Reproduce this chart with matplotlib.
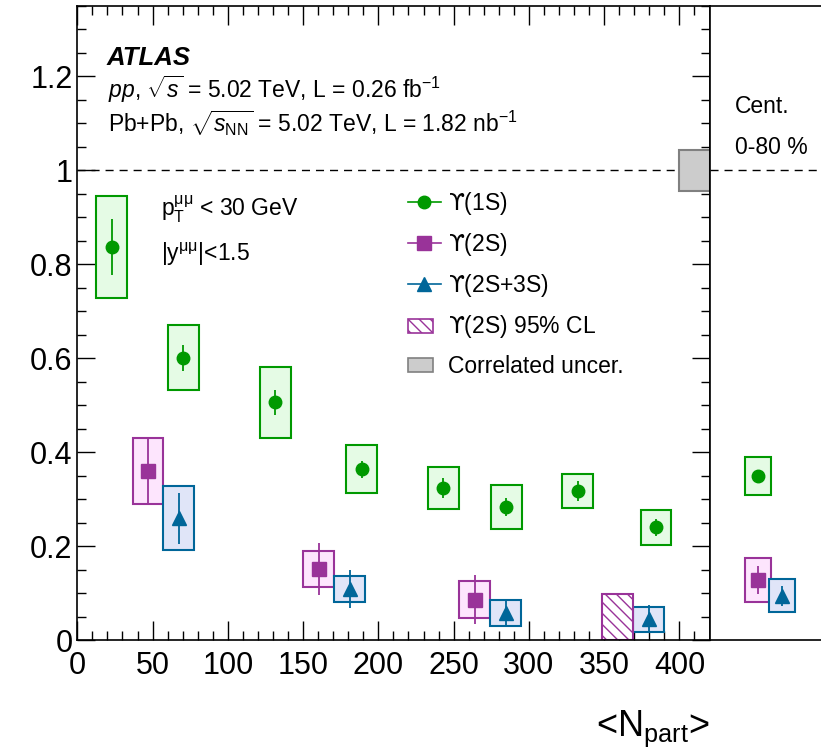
import numpy as np
import matplotlib
matplotlib.use('Agg')
import matplotlib.pyplot as plt
import matplotlib.patches as mpatches
from matplotlib.lines import Line2D
from matplotlib.legend_handler import HandlerPatch
from matplotlib.ticker import MultipleLocator, FuncFormatter

plt.rcParams['font.family'] = ['Liberation Sans', 'DejaVu Sans']
plt.rcParams['mathtext.fontset'] = 'custom'
plt.rcParams['mathtext.rm'] = 'Liberation Sans'
plt.rcParams['mathtext.it'] = 'Liberation Sans:italic'
plt.rcParams['mathtext.bf'] = 'Liberation Sans:bold'
plt.rcParams['mathtext.sf'] = 'DejaVu Sans'   # curly-armed upsilon

# Upsilon(1S) R_AA vs <Npart>
npart_1s = [23.0, 70.5, 131.5, 189.0, 243.0, 285.0, 332.5, 384.5]
raa_1s = [0.837, 0.601, 0.506, 0.364, 0.324, 0.284, 0.317, 0.240]
stat_1s = [0.060, 0.028, 0.026, 0.018, 0.022, 0.019, 0.022, 0.018]
syst_1s = [0.108, 0.069, 0.075, 0.052, 0.045, 0.047, 0.036, 0.037]

# Upsilon(2S)
npart_2s = [47.0, 160.5, 264.0]
raa_2s = [0.360, 0.151, 0.086]
stat_2s = [0.070, 0.055, 0.052]
syst_2s = [0.070, 0.039, 0.040]

# Upsilon(2S) 95% CL upper limit, most central bin
npart_2s_lim = [359.0]
lim_2s = [0.099]

# Upsilon(2S+3S), drawn shifted in Npart
npart_23s = [67.5, 181.0, 284.5, 379.5]
raa_23s = [0.259, 0.108, 0.057, 0.044]
stat_23s = [0.055, 0.040, 0.030, 0.030]
syst_23s = [0.068, 0.028, 0.028, 0.027]

# centrality integrated 0-80 %
raa_cent = [0.349, 0.127, 0.094]
stat_cent = [0.010, 0.030, 0.022]
syst_cent = [0.040, 0.047, 0.035]
xpos_cent = [32.2, 32.2, 48.2]

corr_unc = 0.0435

C1, F1 = '#009900', '#e5fbe5'
C2, F2 = '#993399', '#fde5fd'
C3, F3 = '#006699', '#e0e5f8'
BOX_W = 20.5
BOX_W_CENT = 17.0
UPS = r'$\mathsf{ϒ}$'

fig = plt.figure(figsize=(8.21, 7.5), dpi=100)
ax = fig.add_axes([77.3 / 821, 110 / 750, 632.2 / 821, 634 / 750])
axr = fig.add_axes([709.5 / 821, 110 / 750, 120.4 / 821, 634 / 750])

def draw_series(a, x, y, stat, syst, width, col, fill, marker, ms):
    y = np.asarray(y)
    syst = np.asarray(syst)
    a.bar(x, 2 * syst, bottom=y - syst, width=width, color=fill,
          edgecolor=col, linewidth=1.5, zorder=2)
    a.errorbar(x, y, yerr=stat, fmt=marker, color=col, ms=ms,
               elinewidth=1.3, capsize=0, zorder=4)

draw_series(ax, npart_1s, raa_1s, stat_1s, syst_1s, BOX_W, C1, F1, 'o', 9)
draw_series(ax, npart_2s, raa_2s, stat_2s, syst_2s, BOX_W, C2, F2, 's', 10)
draw_series(ax, npart_23s, raa_23s, stat_23s, syst_23s, BOX_W, C3, F3, '^', 9.5)
ax.bar(npart_2s_lim, lim_2s, bottom=0, width=BOX_W, facecolor='white',
       edgecolor=C2, hatch='\\\\\\', linewidth=1.5, zorder=2)
ax.bar([410], [2 * corr_unc], bottom=1 - corr_unc, width=20, color='0.8',
       edgecolor='0.5', linewidth=1.5, zorder=2)

cent_styles = [(C1, F1, 'o', 9), (C2, F2, 's', 10), (C3, F3, '^', 9.5)]
for i, (col, fill, m, ms) in enumerate(cent_styles):
    draw_series(axr, [xpos_cent[i]], [raa_cent[i]], [stat_cent[i]],
                [syst_cent[i]], BOX_W_CENT, col, fill, m, ms)

for a in (ax, axr):
    a.axhline(1.0, color='black', lw=1.0, dashes=(5.8, 4.3), zorder=1)
    a.set_ylim(0, 1.35)
    for s in a.spines.values():
        s.set_linewidth(1.2)

ax.set_xlim(0, 420)
axr.set_xlim(0, 80)

ax.xaxis.set_major_locator(MultipleLocator(50))
ax.xaxis.set_minor_locator(MultipleLocator(10))
ax.yaxis.set_major_locator(MultipleLocator(0.2))
ax.yaxis.set_minor_locator(MultipleLocator(0.05))
ax.yaxis.set_major_formatter(FuncFormatter(lambda v, p: '%g' % round(v, 2)))
ax.tick_params(which='both', direction='in', top=True, right=True, width=1.0)
ax.tick_params(which='major', length=13)
ax.tick_params(which='minor', length=6.5)
ax.tick_params(axis='x', which='major', length=14, labelsize=22, pad=8)
ax.tick_params(axis='y', labelsize=22, pad=3.5)
axr.set_xticks([])
axr.set_yticks([])

ax.set_xlabel(r'<N$_{\mathrm{part}}$>', fontsize=26, ha='right', va='baseline')
ax.xaxis.set_label_coords(1.0, (640 - 736) / 634)

# annotations
ax.text(0.047, 0.907, 'ATLAS', transform=ax.transAxes, fontsize=18.5,
        fontweight='bold', fontstyle='italic', va='baseline')
ax.text(0.0486, 0.855, r'$pp$, $\sqrt{s}$ = 5.02 TeV, L = 0.26 fb$^{-1}$',
        transform=ax.transAxes, fontsize=16.5, va='baseline')
ax.text(0.0486, 0.801,
        r'Pb+Pb, $\sqrt{s_{\mathrm{NN}}}$ = 5.02 TeV, L = 1.82 nb$^{-1}$',
        transform=ax.transAxes, fontsize=16.5, va='baseline')
ax.text(0.132, 0.668, r'p$_{\mathrm{T}}^{\mathrm{\mu\mu}}$ < 30 GeV',
        transform=ax.transAxes, fontsize=16.5, va='baseline')
ax.text(0.132, 0.598, r'|y$^{\mathrm{\mu\mu}}$|<1.5',
        transform=ax.transAxes, fontsize=16.5, va='baseline')
axr.text(0.212, 0.832, 'Cent.', transform=axr.transAxes, fontsize=16.5,
         va='baseline')
axr.text(0.212, 0.767, '0-80 %', transform=axr.transAxes, fontsize=16.5,
         va='baseline')

def small_box(legend, orig_handle, xdescent, ydescent, width, height, fontsize):
    return mpatches.Rectangle((-xdescent, -ydescent + 0.05 * height),
                              0.76 * width, 0.85 * height)

handles = [
    Line2D([], [], color=C1, marker='o', ms=9, lw=1.2),
    Line2D([], [], color=C2, marker='s', ms=10, lw=1.2),
    Line2D([], [], color=C3, marker='^', ms=9.5, lw=1.2),
    mpatches.Patch(facecolor='white', edgecolor=C2, hatch='\\\\\\', lw=1.2),
    mpatches.Patch(facecolor='0.8', edgecolor='0.5', lw=1.2),
]
labels = [UPS + '(1S)', UPS + '(2S)', UPS + '(2S+3S)', UPS + '(2S) 95% CL',
          'Correlated uncer.']
ax.legend(handles, labels, loc='upper left', bbox_to_anchor=(0.523, 0.710),
          frameon=False, borderpad=0, borderaxespad=0, handlelength=1.43,
          handletextpad=0.3, labelspacing=0.62, fontsize=16.5, numpoints=1,
          handler_map={mpatches.Patch: HandlerPatch(patch_func=small_box)})

fig.savefig('out.png', dpi=100)
